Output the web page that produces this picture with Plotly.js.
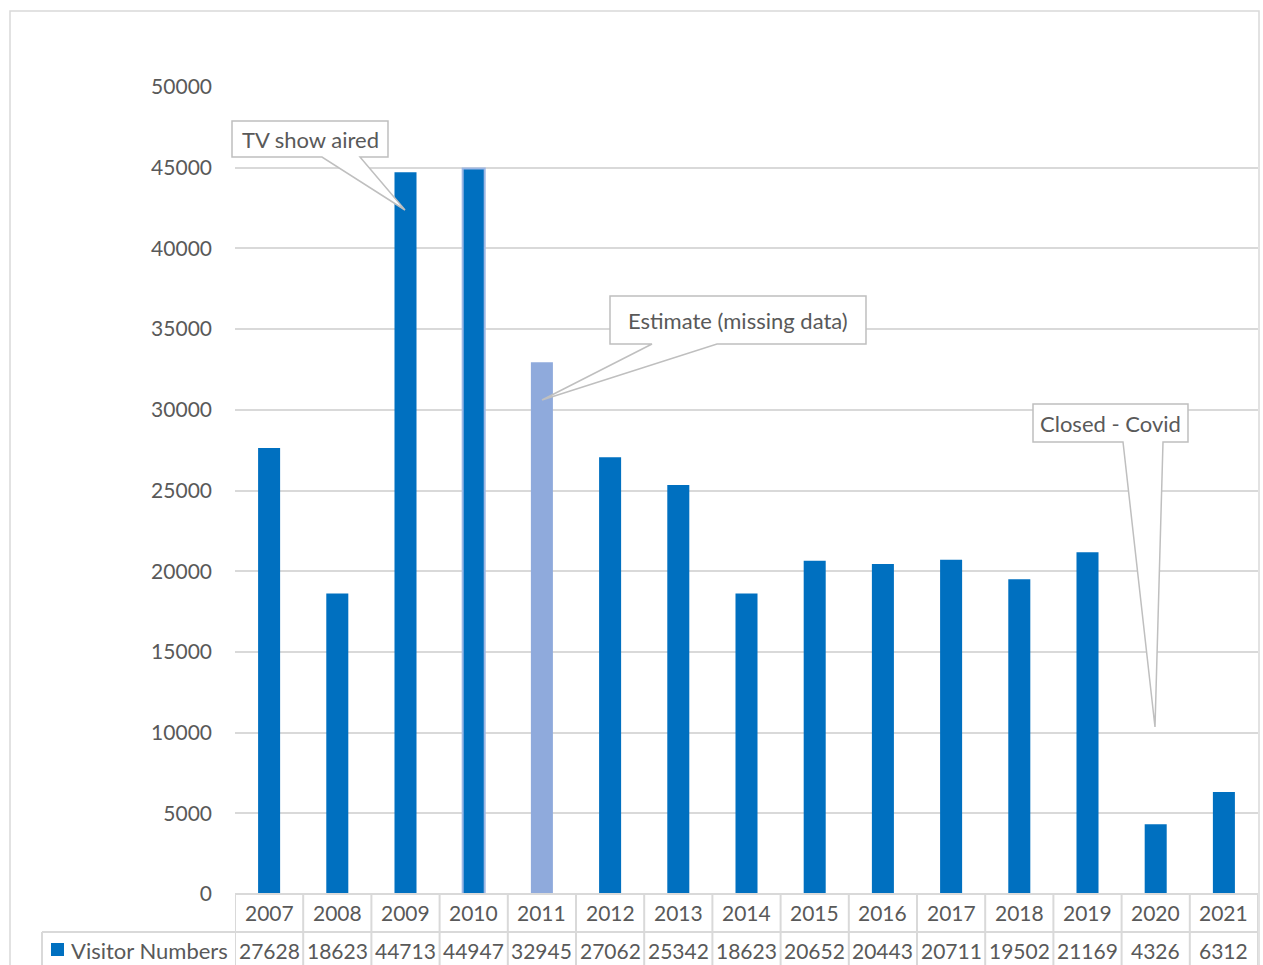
<!DOCTYPE html>
<html>
<head>
<meta charset="utf-8">
<script src="https://cdn.plot.ly/plotly-3.0.1.min.js"></script>
<style>
  html, body { margin: 0; padding: 0; background: #ffffff; }
  #chart { width: 1263px; height: 965px; }
</style>
</head>
<body>
<div id="chart"></div>
<script>
// ---- Data ----
const years = ['2007','2008','2009','2010','2011','2012','2013','2014','2015','2016','2017','2018','2019','2020','2021'];
const visitors = [27628, 18623, 44713, 44947, 32945, 27062, 25342, 18623, 20652, 20443, 20711, 19502, 21169, 4326, 6312];
const seriesName = 'Visitor Numbers';
const estimatedYear = '2011';
const yTicks = [0, 5000, 10000, 15000, 20000, 25000, 30000, 35000, 40000, 45000, 50000];
const callouts = [
  { text: 'TV show aired', year: '2009' },
  { text: 'Estimate (missing data)', year: '2011' },
  { text: 'Closed - Covid', year: '2020' }
];

// ---- Styling / geometry ----
const FONT = 'Lato, "Open Sans", sans-serif';
const TXT = '#595959';
const GRID = '#d9d9d9';
const BLUE = '#0070C0';
const LIGHT = '#8FAADC';
const W = 1263, H = 965;
const L = 235, R = 1258, T = 87, B = 894;
const px = x => (x - L) / (R - L);
const py = y => (B - y) / (B - T);
const catX = i => (i + 0.5) / years.length;

const barColors = years.map(y => y === estimatedYear ? LIGHT : BLUE);
const lineColors = years.map(y => y === '2010' ? '#9DB7E4' : 'rgba(0,0,0,0)');
const lineWidths = years.map(y => y === '2010' ? 2 : 0);

const trace = {
  type: 'bar',
  x: years,
  y: visitors,
  name: seriesName,
  marker: { color: barColors, line: { color: lineColors, width: lineWidths } },
  hoverinfo: 'x+y'
};

const shapes = [];
const annotations = [];

// outer chart border
shapes.push({ type: 'rect', xref: 'paper', yref: 'paper',
  x0: px(10), x1: px(1259), y0: py(11), y1: py(990),
  line: { color: GRID, width: 1.5 }, fillcolor: 'rgba(0,0,0,0)', layer: 'below' });

// data table lines
shapes.push({ type: 'line', xref: 'paper', yref: 'paper', x0: 0, x1: 1, y0: 0, y1: 0,
  line: { color: GRID, width: 2 } });
shapes.push({ type: 'line', xref: 'paper', yref: 'paper', x0: px(42), x1: 1, y0: py(932), y1: py(932),
  line: { color: GRID, width: 2 } });
shapes.push({ type: 'line', xref: 'paper', yref: 'paper', x0: px(42), x1: px(42), y0: py(932), y1: py(990),
  line: { color: GRID, width: 2 } });
for (let i = 0; i <= years.length; i++) {
  shapes.push({ type: 'line', xref: 'x', yref: 'paper', x0: i - 0.5, x1: i - 0.5, y0: 0, y1: py(990),
    line: { color: GRID, width: 2 } });
}
// legend key
shapes.push({ type: 'rect', xref: 'paper', yref: 'paper',
  x0: px(51), x1: px(64), y0: py(956), y1: py(943),
  line: { width: 0 }, fillcolor: BLUE });
annotations.push({ xref: 'paper', yref: 'paper', x: px(69), y: py(950), text: seriesName,
  showarrow: false, xanchor: 'left', yanchor: 'middle', font: { family: FONT, size: 22, color: TXT } });

years.forEach((yr, i) => {
  annotations.push({ xref: 'paper', yref: 'paper', x: catX(i), y: py(913), text: yr, showarrow: false,
    xanchor: 'center', yanchor: 'middle', font: { family: FONT, size: 21, color: TXT } });
  annotations.push({ xref: 'paper', yref: 'paper', x: catX(i), y: py(950), text: String(visitors[i]), showarrow: false,
    xanchor: 'center', yanchor: 'middle', font: { family: FONT, size: 21, color: TXT } });
});

// callouts (box + wedge pointer) in pixel geometry
const calloutGeom = [
  { box: [232, 121, 388, 157], base: [322, 360], tip: [405, 210] },
  { box: [610, 296, 866, 344], base: [652, 717], tip: [542, 400] },
  { box: [1033, 404, 1188, 442], base: [1123, 1163], tip: [1155, 727] }
];
callouts.forEach((c, k) => {
  const g = calloutGeom[k];
  const [x0, y0, x1, y1] = g.box;
  const pts = [
    [g.base[0], y1], [x0, y1], [x0, y0], [x1, y0], [x1, y1], [g.base[1], y1], g.tip
  ];
  const path = pts.map((p, j) => (j === 0 ? 'M' : 'L') + px(p[0]).toFixed(5) + ',' + py(p[1]).toFixed(5)).join(' ') + ' Z';
  shapes.push({ type: 'path', xref: 'paper', yref: 'paper', path: path,
    line: { color: '#bfbfbf', width: 1.5 }, fillcolor: '#ffffff', layer: 'above' });
  annotations.push({ xref: 'paper', yref: 'paper', x: px((x0 + x1) / 2), y: py((y0 + y1) / 2),
    text: c.text, showarrow: false, xanchor: 'center', yanchor: 'middle',
    font: { family: FONT, size: 22, color: TXT } });
});

const layout = {
  width: W, height: H,
  margin: { l: L, r: W - R, t: T, b: H - B, pad: 0 },
  paper_bgcolor: '#ffffff',
  plot_bgcolor: '#ffffff',
  showlegend: false,
  bargap: 0.677,
  font: { family: FONT, size: 21, color: TXT },
  xaxis: {
    type: 'category',
    showticklabels: false,
    showgrid: false,
    zeroline: false,
    showline: false,
    ticks: '',
    range: [-0.5, years.length - 0.5],
    fixedrange: true
  },
  yaxis: {
    range: [0, 50000],
    tickvals: yTicks,
    ticktext: yTicks.map(String),
    showgrid: true,
    gridcolor: GRID,
    gridwidth: 2,
    zeroline: false,
    showline: false,
    ticks: '',
    ticklabelstandoff: 22,
    tickfont: { family: FONT, size: 21, color: TXT },
    fixedrange: true
  },
  shapes: shapes,
  annotations: annotations
};

Plotly.newPlot('chart', [trace], layout, { displayModeBar: false, staticPlot: true });
</script>
</body>
</html>
